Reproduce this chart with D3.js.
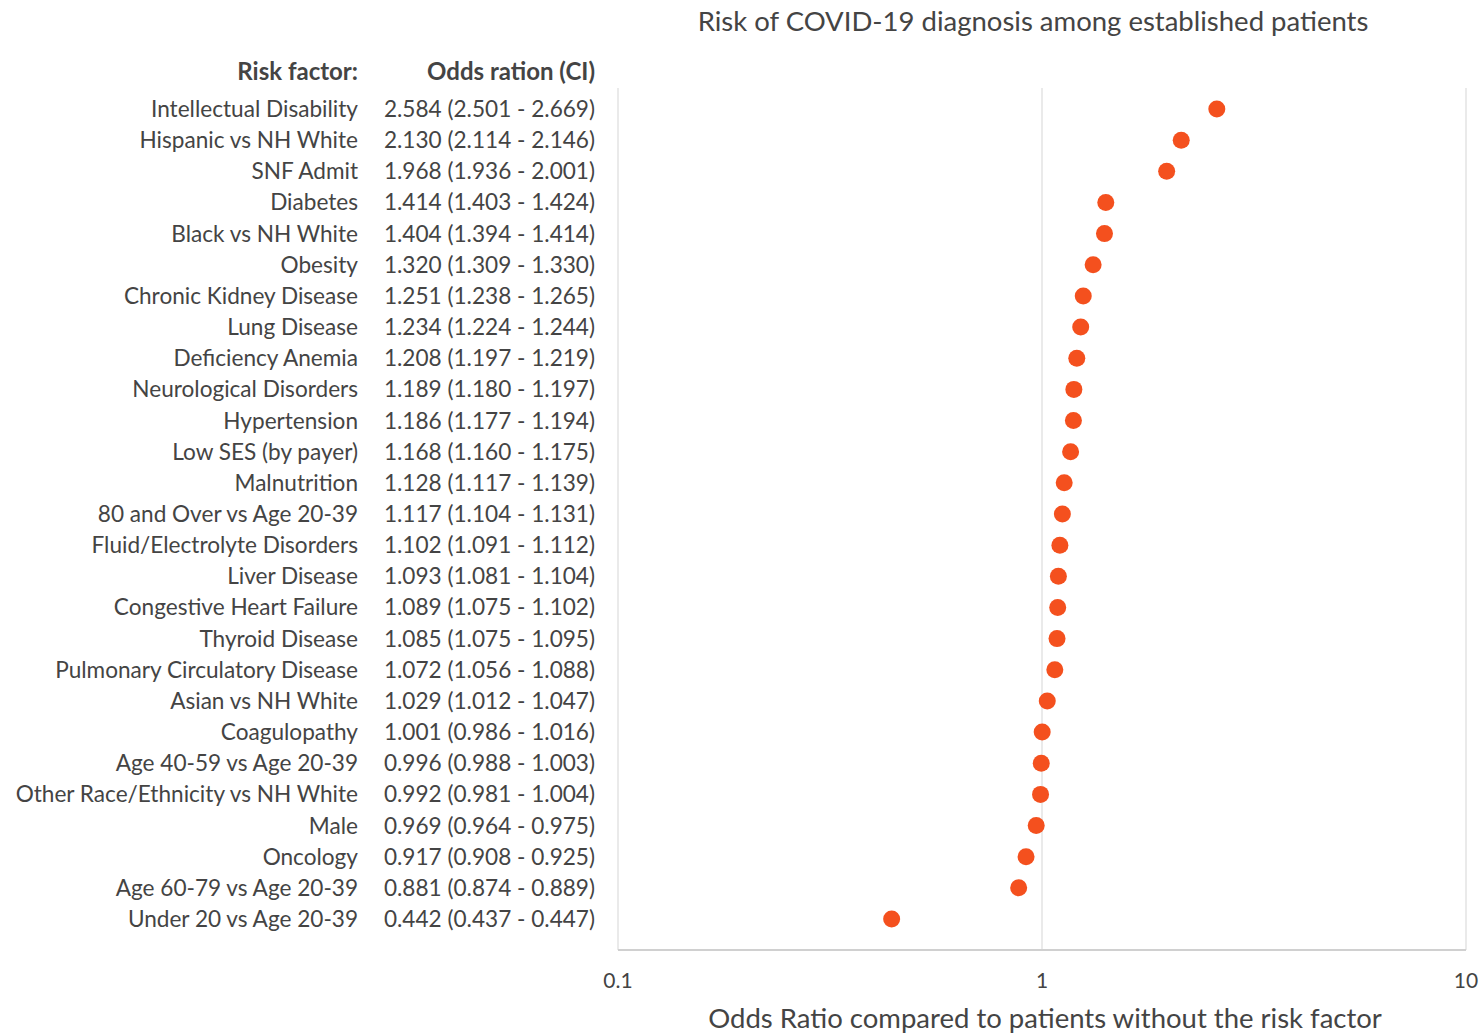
<!DOCTYPE html>
<html>
<head>
<meta charset="utf-8">
<script src="https://cdn.jsdelivr.net/npm/d3@7"></script>
<style>
  body { margin: 0; background: #fff; }
  svg text { font-family: Lato, "Open Sans", sans-serif; fill: #444; }
</style>
</head>
<body>
<svg id="chart"></svg>
<script>
// risk factors, top to bottom
const factors = [
  "Intellectual Disability", "Hispanic vs NH White", "SNF Admit", "Diabetes",
  "Black vs NH White", "Obesity", "Chronic Kidney Disease", "Lung Disease",
  "Deficiency Anemia", "Neurological Disorders", "Hypertension", "Low SES (by payer)",
  "Malnutrition", "80 and Over vs Age 20-39", "Fluid/Electrolyte Disorders", "Liver Disease",
  "Congestive Heart Failure", "Thyroid Disease", "Pulmonary Circulatory Disease",
  "Asian vs NH White", "Coagulopathy", "Age 40-59 vs Age 20-39",
  "Other Race/Ethnicity vs NH White", "Male", "Oncology", "Age 60-79 vs Age 20-39",
  "Under 20 vs Age 20-39"
];
const oddsRatio = [2.584, 2.130, 1.968, 1.414, 1.404, 1.320, 1.251, 1.234, 1.208, 1.189,
  1.186, 1.168, 1.128, 1.117, 1.102, 1.093, 1.089, 1.085, 1.072, 1.029, 1.001, 0.996,
  0.992, 0.969, 0.917, 0.881, 0.442];
const ciLow = [2.501, 2.114, 1.936, 1.403, 1.394, 1.309, 1.238, 1.224, 1.197, 1.180,
  1.177, 1.160, 1.117, 1.104, 1.091, 1.081, 1.075, 1.075, 1.056, 1.012, 0.986, 0.988,
  0.981, 0.964, 0.908, 0.874, 0.437];
const ciHigh = [2.669, 2.146, 2.001, 1.424, 1.414, 1.330, 1.265, 1.244, 1.219, 1.197,
  1.194, 1.175, 1.139, 1.131, 1.112, 1.104, 1.102, 1.095, 1.088, 1.047, 1.016, 1.003,
  1.004, 0.975, 0.925, 0.889, 0.447];
const xTicks = [0.1, 1, 10];

const width = 1480, height = 1033;
const plot = { left: 618, right: 1466, top: 88, bottom: 950 };

const svg = d3.select("#chart")
  .attr("width", width)
  .attr("height", height);

const x = d3.scaleLog()
  .domain([0.1, 10])
  .range([plot.left, plot.right]);

const y = d3.scalePoint()
  .domain(factors)
  .range([109, 919]);

// frame lines: left, right, bottom, plus gridline at 1
svg.append("line")
  .attr("x1", plot.left).attr("x2", plot.left)
  .attr("y1", plot.top).attr("y2", plot.bottom)
  .attr("stroke", "#e3e3e3").attr("stroke-width", 1.5);
svg.append("line")
  .attr("x1", plot.right).attr("x2", plot.right)
  .attr("y1", plot.top).attr("y2", plot.bottom)
  .attr("stroke", "#e3e3e3").attr("stroke-width", 1.5);
svg.append("line")
  .attr("x1", x(1)).attr("x2", x(1))
  .attr("y1", plot.top).attr("y2", plot.bottom)
  .attr("stroke", "#e3e3e3").attr("stroke-width", 1.5);
svg.append("line")
  .attr("x1", plot.left).attr("x2", plot.right)
  .attr("y1", plot.bottom).attr("y2", plot.bottom)
  .attr("stroke", "#d0d0d0").attr("stroke-width", 2);

// x tick labels
svg.selectAll(".xtick")
  .data(xTicks)
  .enter()
  .append("text")
  .attr("class", "xtick")
  .attr("x", d => x(d))
  .attr("y", 988)
  .attr("text-anchor", "middle")
  .style("font-size", "21px")
  .text(d => d);

// titles
svg.append("text")
  .attr("x", 1033).attr("y", 31)
  .attr("text-anchor", "middle")
  .style("font-size", "27.5px")
  .text("Risk of COVID-19 diagnosis among established patients");

svg.append("text")
  .attr("x", 1045).attr("y", 1028)
  .attr("text-anchor", "middle")
  .style("font-size", "27.5px")
  .text("Odds Ratio compared to patients without the risk factor");

// column headers
svg.append("text")
  .attr("x", 358).attr("y", 80)
  .attr("text-anchor", "end")
  .style("font-size", "24px").style("font-weight", "bold")
  .text("Risk factor:");
svg.append("text")
  .attr("x", 595).attr("y", 80)
  .attr("text-anchor", "end")
  .style("font-size", "24px").style("font-weight", "bold")
  .text("Odds ration (CI)");

// row labels
svg.selectAll(".label")
  .data(factors)
  .enter()
  .append("text")
  .attr("class", "label")
  .attr("x", 358)
  .attr("y", d => y(d) + 8)
  .attr("text-anchor", "end")
  .style("font-size", "22.6px")
  .text(d => d);

svg.selectAll(".ci")
  .data(factors)
  .enter()
  .append("text")
  .attr("class", "ci")
  .attr("x", 595)
  .attr("y", d => y(d) + 8)
  .attr("text-anchor", "end")
  .style("font-size", "22.6px")
  .text((d, i) => `${oddsRatio[i].toFixed(3)} (${ciLow[i].toFixed(3)} - ${ciHigh[i].toFixed(3)})`);

// points
svg.selectAll(".dot")
  .data(factors)
  .enter()
  .append("circle")
  .attr("class", "dot")
  .attr("cx", (d, i) => x(oddsRatio[i]))
  .attr("cy", d => y(d))
  .attr("r", 8.5)
  .attr("fill", "#f4501e");
</script>
</body>
</html>
